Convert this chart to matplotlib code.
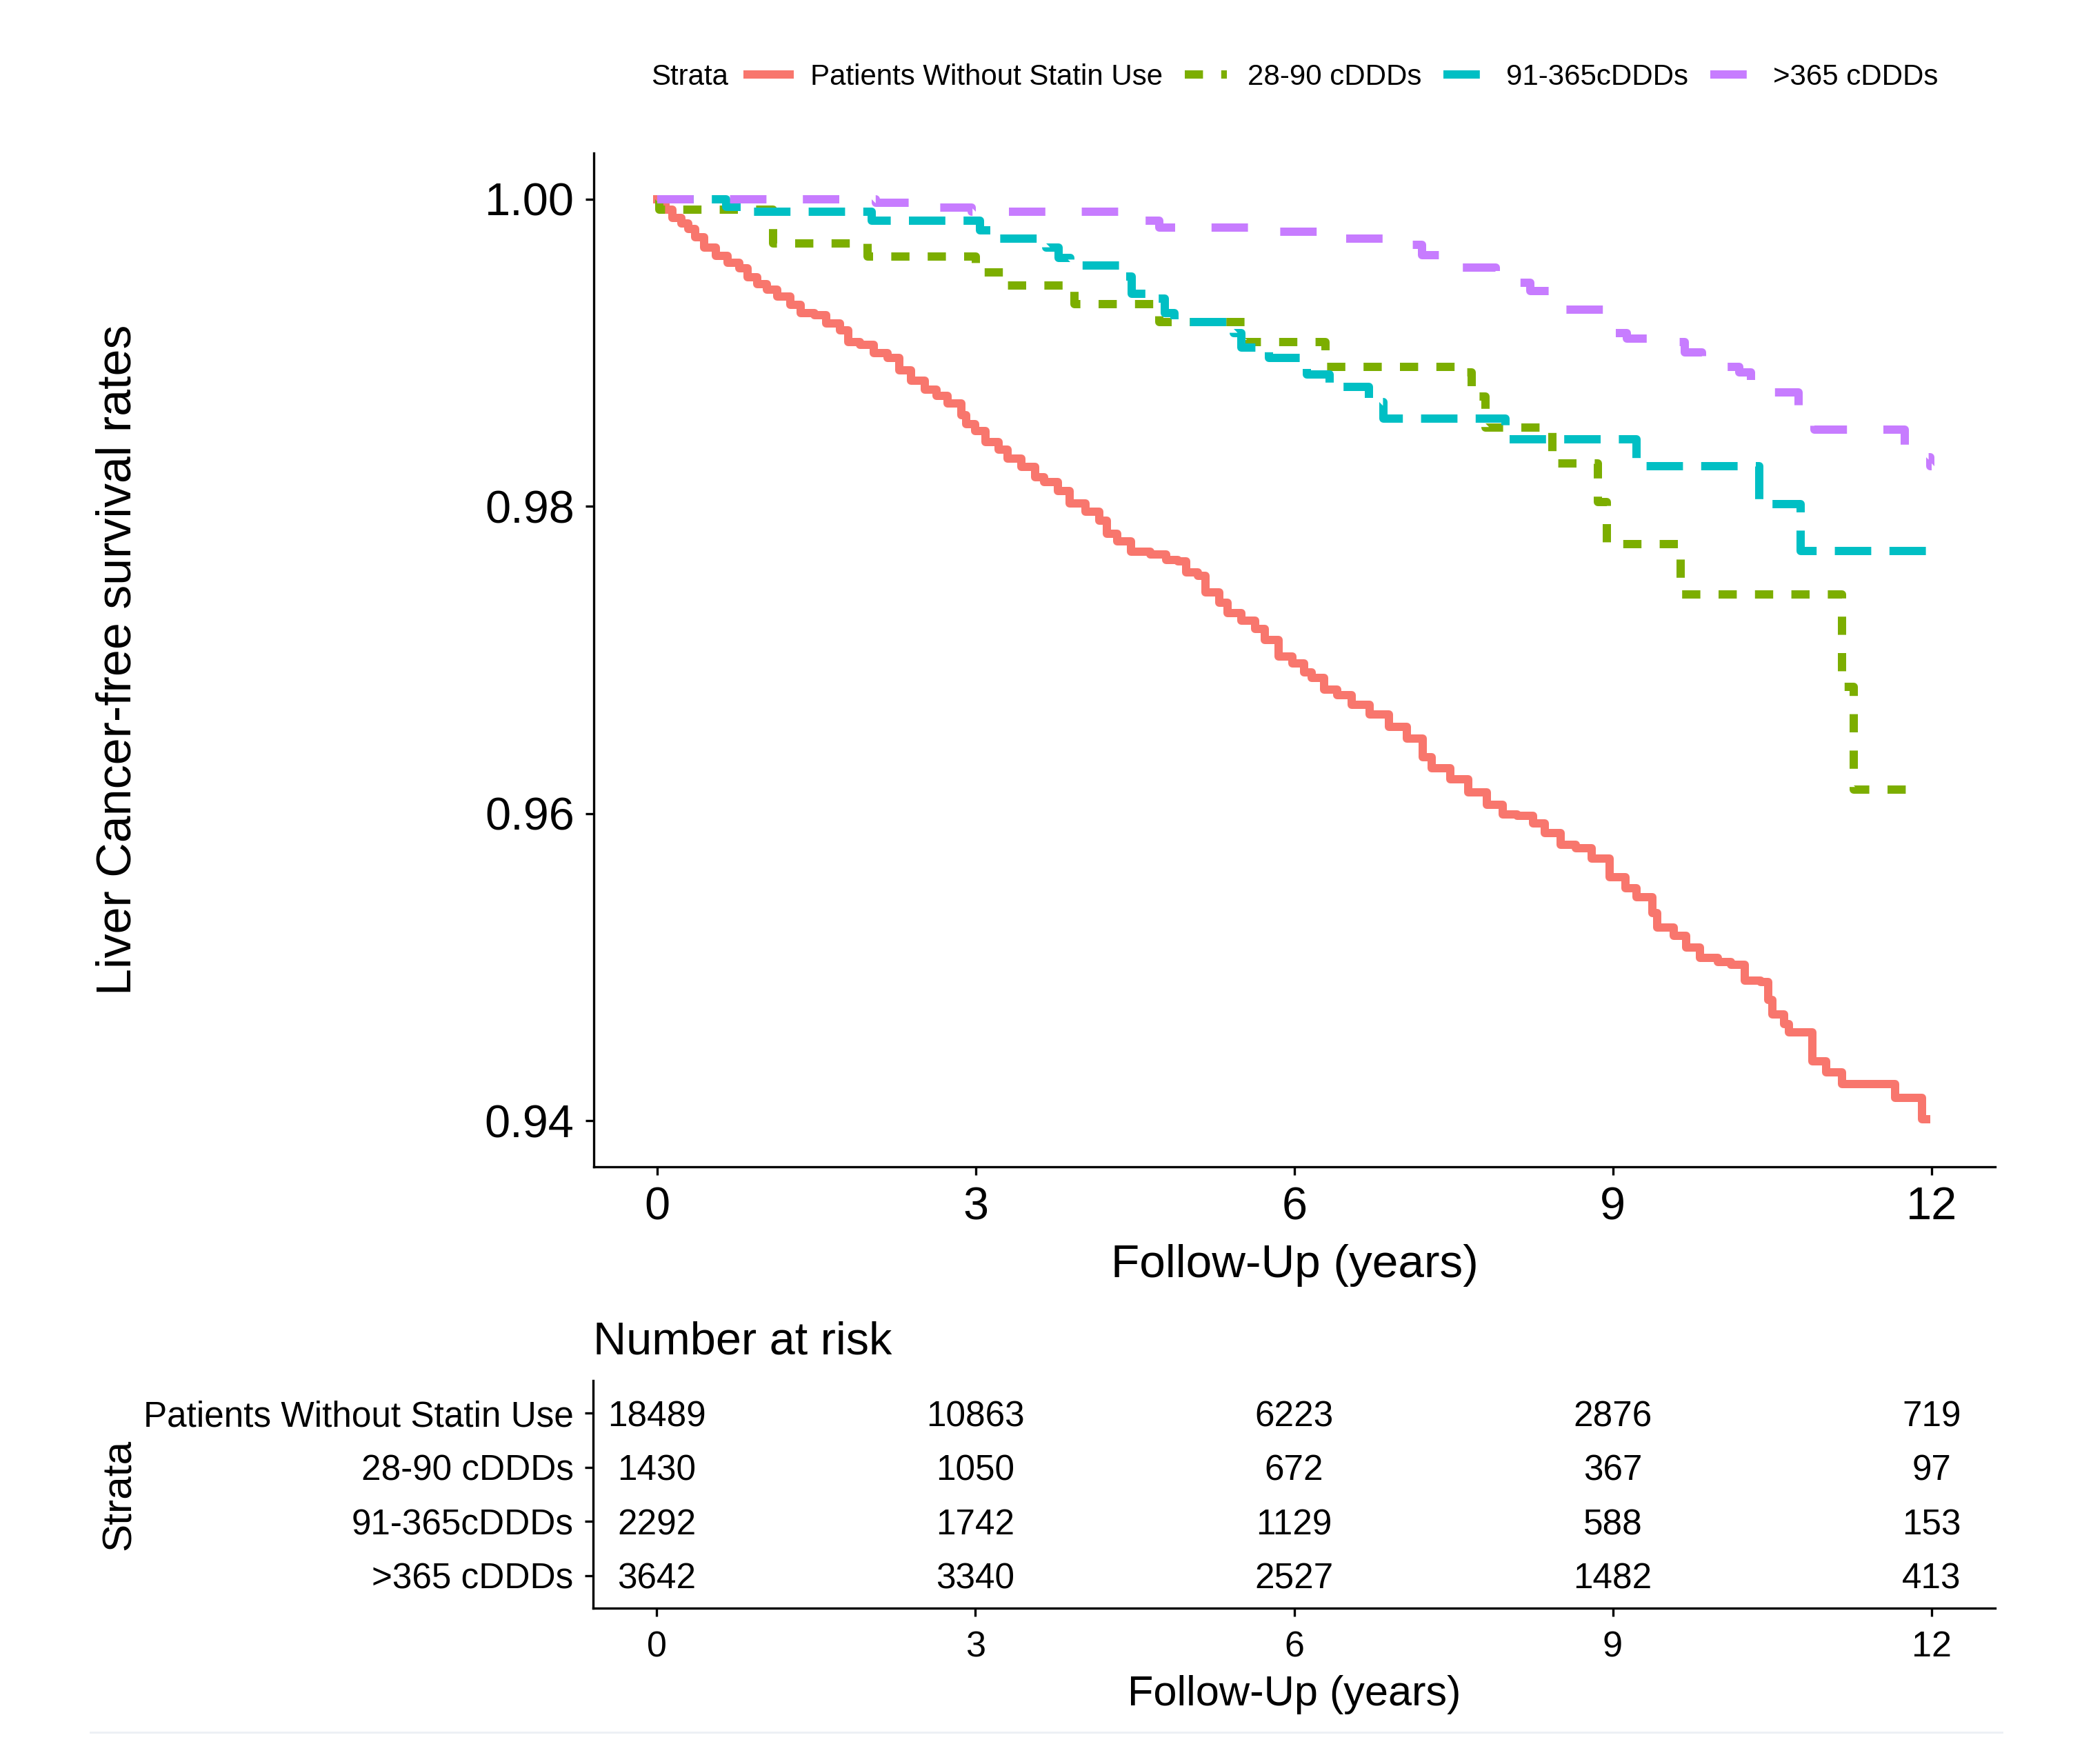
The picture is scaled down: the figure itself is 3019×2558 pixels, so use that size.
import matplotlib
matplotlib.use('Agg')
import matplotlib.pyplot as plt
from matplotlib.lines import Line2D
from matplotlib.ticker import FormatStrFormatter

plt.rcParams['font.family'] = ['Liberation Sans', 'DejaVu Sans']

STRATA = ['Patients Without Statin Use', '28-90 cDDDs', '91-365cDDDs', '>365 cDDDs']
COLORS = ['#F8766D', '#7CAE00', '#00BFC4', '#C77CFF']

# Kaplan-Meier steps: (years, survival)
none_t = [0.00, 0.073, 0.138, 0.225, 0.29, 0.355, 0.44, 0.55, 0.66, 0.77, 0.85, 0.94,
	1.03, 1.13, 1.25, 1.35, 1.48, 1.59, 1.72, 1.80, 1.91, 2.04, 2.17, 2.28, 2.39, 2.52,
	2.63, 2.73, 2.86, 2.91, 2.99, 3.09, 3.21, 3.30, 3.43, 3.56, 3.64, 3.77, 3.88, 4.03,
	4.16, 4.23, 4.33, 4.46, 4.64, 4.79, 4.90, 4.98, 5.09, 5.16, 5.29, 5.37, 5.50, 5.63,
	5.72, 5.85, 5.98, 6.09, 6.16, 6.28, 6.40, 6.54, 6.71, 6.89, 7.06, 7.21, 7.29, 7.47,
	7.64, 7.81, 7.96, 8.10, 8.25, 8.36, 8.51, 8.65, 8.80, 8.97, 9.12, 9.22, 9.37, 9.42,
	9.57, 9.69, 9.82, 9.99, 10.11, 10.24, 10.39, 10.46, 10.50, 10.61, 10.66, 10.88,
	11.01, 11.16, 11.66, 11.91, 11.95]
none_s = [1.0000, 0.99933, 0.99880, 0.99843, 0.99806, 0.99753, 0.99686, 0.99633,
	0.99588, 0.99551, 0.99491, 0.99447, 0.99409, 0.99364, 0.99312, 0.99259, 0.99245,
	0.99192, 0.99147, 0.99072, 0.99050, 0.98998, 0.98968, 0.98886, 0.98818, 0.98758,
	0.98721, 0.98668, 0.98594, 0.98534, 0.98489, 0.98420, 0.98370, 0.98309, 0.98257,
	0.98190, 0.98160, 0.98100, 0.98018, 0.97966, 0.97905, 0.97823, 0.97771, 0.97703,
	0.97689, 0.97651, 0.97644, 0.97569, 0.97546, 0.97442, 0.97374, 0.97307, 0.97255,
	0.97203, 0.97128, 0.97023, 0.96978, 0.96918, 0.96885, 0.96806, 0.96770, 0.96706,
	0.96645, 0.96566, 0.96486, 0.96365, 0.96295, 0.96225, 0.96136, 0.96055, 0.95994,
	0.95984, 0.95934, 0.95875, 0.95795, 0.95774, 0.95705, 0.95584, 0.95513, 0.95454,
	0.95350, 0.95256, 0.95204, 0.95127, 0.95059, 0.95033, 0.95015, 0.94912, 0.94904,
	0.94785, 0.94692, 0.94629, 0.94574, 0.94385, 0.94316, 0.94237, 0.94147, 0.94010,
	0.94010]

low_t = [0.00, 0.02, 1.09, 1.98, 3.00, 3.30, 3.93, 4.73, 5.53, 6.29, 7.62, 7.67,
	7.80, 8.43, 8.86, 8.94, 9.64, 11.16, 11.27, 11.86]
low_s = [1.0000, 0.99933, 0.99713, 0.99627, 0.99524, 0.99436, 0.99318, 0.99202,
	0.99071, 0.98909, 0.98873, 0.98716, 0.98514, 0.98281, 0.98030, 0.97756, 0.97428,
	0.96827, 0.96154, 0.96154]

mid_t = [0.00, 0.65, 0.82, 2.02, 3.04, 3.15, 3.66, 3.78, 3.89, 4.37, 4.47, 4.69,
	4.78, 4.87, 5.43, 5.50, 5.76, 6.12, 6.33, 6.70, 6.84, 7.99, 9.22, 10.38, 10.77,
	11.99]
mid_s = [1.0000, 0.99950, 0.99917, 0.99861, 0.99799, 0.99744, 0.99683, 0.99619,
	0.99566, 0.99497, 0.99382, 0.99354, 0.99259, 0.99202, 0.99129, 0.99032, 0.98968,
	0.98861, 0.98777, 0.98678, 0.98573, 0.98438, 0.98263, 0.98014, 0.97708, 0.97708]

high_t = [0.00, 2.06, 2.48, 2.96, 4.39, 4.73, 5.62, 6.44, 6.86, 7.20, 7.55, 7.90,
	8.22, 8.48, 9.01, 9.13, 9.34, 9.68, 9.84, 10.19, 10.30, 10.75, 10.90, 11.75,
	11.99, 12.00]
high_s = [1.0000, 0.99978, 0.99947, 0.99917, 0.99861, 0.99813, 0.99790, 0.99745,
	0.99704, 0.99636, 0.99554, 0.99454, 0.99403, 0.99282, 0.99127, 0.99093, 0.99071,
	0.99001, 0.98909, 0.98873, 0.98740, 0.98631, 0.98501, 0.98321, 0.98263, 0.98263]

# number at risk table
risk_times = [0, 3, 6, 9, 12]
risk_none = [18489, 10863, 6223, 2876, 719]
risk_low = [1430, 1050, 672, 367, 97]
risk_mid = [2292, 1742, 1129, 588, 153]
risk_high = [3642, 3340, 2527, 1482, 413]

W, H = 3019, 2558
LW = 2.88
STYLES = ['-', (0, (2.2, 2.2)), (0, (4.4, 2.2)), (0, (4.4, 4.4))]


def style_axes(ax):
	for side in ['top', 'right']:
		ax.spines[side].set_visible(False)
	for side in ['left', 'bottom']:
		ax.spines[side].set_linewidth(0.8)
	ax.tick_params(length=2.8, width=0.8, color='black', labelcolor='black')


def frac_box(left, top, right, bottom):
	# pixel box -> figure fraction rect
	return [left / W, 1 - bottom / H, (right - left) / W, (bottom - top) / H]


def main():
	fig = plt.figure(figsize=(W / 300, H / 300), dpi=300)

	ax = fig.add_axes(frac_box(861, 222, 2893, 1692))
	curves = [(none_t, none_s), (low_t, low_s), (mid_t, mid_s), (high_t, high_s)]
	for (t, s), color, ls in zip(curves, COLORS, STYLES):
		ax.step(t, s, where='post', color=color, lw=LW, linestyle=ls)

	style_axes(ax)
	ax.set_xlim(-0.6, 12.6)
	ax.set_ylim(0.937, 1.003)
	ax.set_xticks(risk_times)
	ax.set_yticks([0.94, 0.96, 0.98, 1.00])
	ax.yaxis.set_major_formatter(FormatStrFormatter('%.2f'))
	ax.tick_params(axis='x', labelsize=16, pad=4)
	ax.tick_params(axis='y', labelsize=16, pad=4)
	ax.set_xlabel('Follow-Up (years)', fontsize=16.2, va='center')
	ax.xaxis.set_label_coords(0.5, (1692 - 1835) / 1470)
	ax.set_ylabel('Liver Cancer-free survival rates', fontsize=16.8, va='center')
	ax.yaxis.set_label_coords((172 - 861) / 2032, 0.5)

	# legend on top, ggplot style with the title on the left
	fig.text(944 / W, 1 - 112 / H, 'Strata', fontsize=10.1, ha='left', va='center')
	handles = [Line2D([], [], color=c, lw=LW, linestyle=ls) for c, ls in zip(COLORS, STYLES)]
	fig.legend(handles, STRATA, loc='center left', bbox_to_anchor=(1084 / W, 1 - 112 / H),
		ncol=4, frameon=False, fontsize=10.1, handlelength=1.45, handletextpad=0.71,
		columnspacing=0.76, borderpad=0, borderaxespad=0)

	# risk table
	ax_r = fig.add_axes(frac_box(860, 2002, 2893, 2332))
	style_axes(ax_r)
	ax_r.set_xlim(-0.6, 12.6)
	ax_r.set_ylim(0.4, 4.6)
	rows = [risk_none, risk_low, risk_mid, risk_high]
	for i, counts in enumerate(rows):
		for t, n in zip(risk_times, counts):
			ax_r.text(t, 4 - i, str(n), ha='center', va='center_baseline', fontsize=12.3)
	ax_r.set_yticks([4, 3, 2, 1])
	ax_r.set_yticklabels(STRATA)
	ax_r.set_xticks(risk_times)
	ax_r.tick_params(axis='y', labelsize=12.3, pad=4)
	ax_r.tick_params(axis='x', labelsize=12.5, pad=4.9)
	ax_r.set_xlabel('Follow-Up (years)', fontsize=14.7, va='center')
	ax_r.xaxis.set_label_coords(0.5, (2332 - 2458) / 330)
	ax_r.set_ylabel('Strata', fontsize=14.5, va='center')
	ax_r.yaxis.set_label_coords((173 - 860) / 2033, 0.5)
	ax_r.text(0, (2332 - 1947) / 330, 'Number at risk', transform=ax_r.transAxes,
		ha='left', va='center', fontsize=16)

	# faint rule under the whole figure
	fig.add_artist(Line2D([131 / W, 2903 / W], [1 - 2512 / H] * 2,
		transform=fig.transFigure, color='#EDF0F5', lw=0.7))

	fig.savefig('out.png', dpi=300)


if __name__ == '__main__':
	main()
